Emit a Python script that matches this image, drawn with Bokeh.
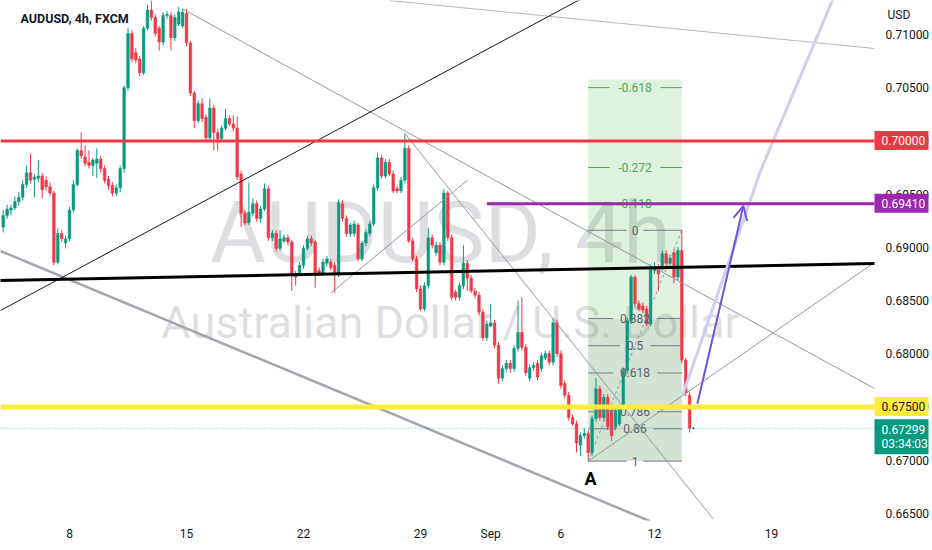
from bokeh.plotting import figure
from bokeh.models import (Range1d, FixedTicker, PrintfTickFormatter, Label, Arrow,
                          OpenHead, ColumnDataSource, LinearAxis)
from bokeh.embed import file_html
from bokeh.resources import INLINE
from bokeh.core.properties import value

# ---------------- data (AUDUSD 4h, FXCM) ----------------
first_bar = -17   # bar index of first candle; bar 0 = Mon Aug 8 first 4h bar
opens = [0.6919,0.6930,0.6935,0.6937,0.6943,0.6947,0.6959,0.6970,0.6964,0.6965,0.6967,0.6963,0.6957,0.6951,0.6886,0.6913,0.6904,
         0.6908,0.6935,0.6959,0.6991,0.6985,0.6980,0.6977,0.6979,0.6983,0.6974,0.6964,0.6958,0.6951,0.6956,0.6974,
         0.7050,0.7101,0.7083,0.7077,0.7064,0.7106,0.7123,0.7116,0.7106,0.7093,0.7118,0.7118,0.7097,0.7110,0.7108,
         0.7120,0.7092,0.7045,0.7019,0.7035,0.7022,0.7003,0.7031,0.7008,0.7002,0.7012,0.7021,0.7016,0.7012,0.6969,
         0.6932,0.6923,0.6932,0.6941,0.6927,0.6936,0.6955,0.6909,0.6913,0.6899,0.6906,0.6909,0.6905,0.6875,0.6875,
         0.6883,0.6899,0.6908,0.6905,0.6878,0.6875,0.6885,0.6886,0.6883,0.6874,0.6941,0.6927,0.6913,0.6913,0.6921,
         0.6889,0.6904,0.6913,0.6922,0.6956,0.6984,0.6967,0.6980,0.6969,0.6955,0.6953,0.6963,0.6993,0.6906,0.6889,
         0.6861,0.6842,0.6864,0.6909,0.6895,0.6902,0.6886,0.6951,0.6909,0.6858,0.6853,0.6864,0.6885,0.6871,0.6859,
         0.6855,0.6839,0.6815,0.6826,0.6829,0.6808,0.6777,0.6786,0.6791,0.6786,0.6805,0.6820,0.6806,0.6777,0.6787,
         0.6791,0.6786,0.6796,0.6800,0.6792,0.6829,0.6800,0.6772,0.6761,0.6740,0.6734,0.6714,0.6723,0.6725,0.6707,
         0.6739,0.6767,0.6740,0.6759,0.6747,0.6731,0.6734,0.6749,0.6784,0.6831,0.6872,0.6847,0.6845,0.6842,0.6828,
         0.6878,0.6881,0.6881,0.6894,0.6885,0.6895,0.6872,0.6897,0.6794,0.6761,0.67295]
highs = [0.6935,0.6940,0.6940,0.6948,0.6952,0.6963,0.6977,0.6988,0.6969,0.6982,0.6970,0.6967,0.6961,0.6953,0.6918,0.6916,0.6911,
         0.6938,0.6963,0.6993,0.7008,0.6996,0.6991,0.6984,0.6993,0.6986,0.6977,0.6967,0.6961,0.6959,0.6977,0.7052,
         0.7106,0.7104,0.7087,0.7080,0.7108,0.7128,0.7132,0.7119,0.7108,0.7121,0.7122,0.7121,0.7119,0.7126,0.7124,
         0.7124,0.7094,0.7047,0.7038,0.7040,0.7025,0.7040,0.7034,0.7011,0.7014,0.7030,0.7024,0.7024,0.7023,0.6972,
         0.6935,0.6961,0.6946,0.6944,0.6939,0.6960,0.6958,0.6916,0.6916,0.6916,0.6912,0.6912,0.6907,0.6878,0.6886,
         0.6902,0.6911,0.6911,0.6907,0.6881,0.6889,0.6892,0.6889,0.6886,0.6945,0.6944,0.6930,0.6923,0.6925,0.6923,
         0.6906,0.6917,0.6925,0.6959,0.6989,0.6987,0.6983,0.6983,0.6972,0.6958,0.6966,0.7007,0.6996,0.6909,0.6892,
         0.6864,0.6867,0.6918,0.6912,0.6905,0.6905,0.6955,0.6953,0.6912,0.6860,0.6867,0.6902,0.6888,0.6874,0.6862,
         0.6858,0.6842,0.6831,0.6847,0.6832,0.6811,0.6789,0.6794,0.6794,0.6808,0.6850,0.6853,0.6809,0.6790,0.6792,
         0.6794,0.6801,0.6803,0.6803,0.6833,0.6832,0.6803,0.6775,0.6764,0.6743,0.6737,0.6726,0.6730,0.6728,0.6742,
         0.6777,0.6770,0.6762,0.6762,0.6749,0.6749,0.6752,0.6787,0.6834,0.6874,0.6874,0.6850,0.6848,0.6845,0.6884,
         0.6886,0.6884,0.6897,0.6897,0.6893,0.6898,0.6900,0.6916,0.6796,0.6764,0.6731]
lows = [0.6914,0.6927,0.6930,0.6935,0.6939,0.6944,0.6956,0.6960,0.6947,0.6961,0.6946,0.6953,0.6948,0.6883,0.6884,0.6905,0.6899,
        0.6906,0.6933,0.6957,0.6983,0.6976,0.6974,0.6967,0.6965,0.6970,0.6960,0.6954,0.6948,0.6948,0.6952,0.6970,
        0.7047,0.7074,0.7073,0.7061,0.7062,0.7104,0.7113,0.7098,0.7085,0.7090,0.7115,0.7085,0.7094,0.7108,0.7106,
        0.7089,0.7042,0.7012,0.7017,0.7018,0.7000,0.7001,0.6991,0.6991,0.6999,0.7010,0.7014,0.7009,0.6963,0.6919,
        0.6921,0.6921,0.6929,0.6924,0.6923,0.6934,0.6906,0.6906,0.6896,0.6897,0.6904,0.6902,0.6859,0.6864,0.6873,
        0.6880,0.6897,0.6901,0.6862,0.6873,0.6873,0.6882,0.6878,0.6857,0.6872,0.6924,0.6910,0.6910,0.6910,0.6887,
        0.6887,0.6901,0.6910,0.6920,0.6953,0.6965,0.6965,0.6967,0.6951,0.6951,0.6951,0.6960,0.6904,0.6887,0.6858,
        0.6840,0.6840,0.6861,0.6899,0.6892,0.6883,0.6883,0.6906,0.6850,0.6850,0.6850,0.6861,0.6859,0.6857,0.6852,
        0.6836,0.6812,0.6812,0.6825,0.6805,0.6772,0.6774,0.6783,0.6782,0.6783,0.6802,0.6803,0.6779,0.6774,0.6784,
        0.6775,0.6783,0.6794,0.6789,0.6789,0.6797,0.6767,0.6758,0.6737,0.6732,0.6707,0.6704,0.6720,0.6699,0.6704,
        0.6736,0.6737,0.6737,0.6728,0.6718,0.6728,0.6732,0.6747,0.6781,0.6828,0.6844,0.6840,0.6838,0.6826,0.6826,
        0.6875,0.6859,0.6878,0.6882,0.6882,0.6866,0.6869,0.6791,0.6760,0.6726,0.6729]
closes = [0.6930,0.6936,0.6937,0.6943,0.6947,0.6959,0.6970,0.6963,0.6966,0.6967,0.6954,0.6957,0.6951,0.6886,0.6913,0.6908,0.6908,
          0.6935,0.6959,0.6991,0.6986,0.6979,0.6977,0.6982,0.6983,0.6974,0.6963,0.6958,0.6951,0.6956,0.6974,0.7050,
          0.7101,0.7077,0.7076,0.7064,0.7106,0.7123,0.7116,0.7101,0.7093,0.7118,0.7119,0.7097,0.7116,0.7121,0.7121,
          0.7092,0.7045,0.7019,0.7035,0.7021,0.7003,0.7031,0.7008,0.7002,0.7012,0.7021,0.7016,0.7012,0.6966,0.6932,
          0.6923,0.6933,0.6941,0.6927,0.6936,0.6955,0.6909,0.6913,0.6899,0.6908,0.6909,0.6905,0.6875,0.6872,0.6883,
          0.6899,0.6908,0.6904,0.6876,0.6875,0.6886,0.6889,0.6881,0.6874,0.6942,0.6927,0.6913,0.6921,0.6922,0.6889,
          0.6904,0.6914,0.6922,0.6956,0.6984,0.6967,0.6980,0.6969,0.6953,0.6953,0.6963,0.6993,0.6906,0.6889,0.6861,
          0.6842,0.6864,0.6909,0.6902,0.6902,0.6886,0.6951,0.6909,0.6853,0.6853,0.6864,0.6885,0.6871,0.6859,0.6855,
          0.6839,0.6815,0.6828,0.6829,0.6808,0.6777,0.6786,0.6791,0.6786,0.6805,0.6820,0.6806,0.6782,0.6787,0.6789,
          0.6778,0.6798,0.6800,0.6792,0.6829,0.6800,0.6770,0.6761,0.6740,0.6734,0.6716,0.6723,0.6725,0.6707,0.6739,
          0.6767,0.6740,0.6759,0.6731,0.6723,0.6747,0.6749,0.6784,0.6831,0.6872,0.6847,0.6842,0.6841,0.6828,0.6881,
          0.6881,0.6875,0.6894,0.6885,0.6890,0.6872,0.6897,0.6794,0.6763,0.6730,0.67299]

day_ticks = [0, 30, 60, 90, 108, 126, 150, 180]
day_labels = ["8", "15", "22", "29", "Sep", "6", "12", "19"]
price_ticks = [0.665, 0.670, 0.675, 0.680, 0.685, 0.690, 0.695, 0.700, 0.705, 0.710]

red_level = 0.70000
purple_level = 0.69410
purple_from_bar = 107
yellow_level = 0.67500
last_price = 0.67299
countdown = "03:34:03"

fib_low_bar, fib_low = 133, 0.6699
fib_high_bar, fib_high = 157, 0.6916
fib_ratios = [-0.618, -0.272, -0.118, 0, 0.382, 0.5, 0.618, 0.786, 0.86, 1]
fib_texts = ["-0.618", "-0.272", "-0.118", "0", "0.382", "0.5", "0.618", "0.786", "0.86", "1"]

# trend-line anchors (bar index, price)
black_thick = [(-18, 0.68688), (206.4, 0.68848)]
black_thin = [(-18, 0.68400), (136, 0.71430)]
grey_channel = [(-18, 0.68970), (149, 0.66423)]
peak_line = [(29, 0.71240), (206.4, 0.67673)]
steep_line = [(86, 0.70070), (165, 0.66450)]
short_line = [(67, 0.68570), (102, 0.69630)]
a_ray = [(133, 0.66990), (206.4, 0.68857)]
top_line = [(82, 0.71320), (206.4, 0.70869)]
projection = [(157.2, 0.6761), (177.2, 0.6972), (195.6, 0.7132), (197, 0.7145)]
arrow_pts = [(161, 0.6753), (172.8, 0.6939)]
label_a = (133.6, 0.66827)

# ---------------- figure ----------------
W, H = 932, 550
FW, FH = 932, 520                     # frame covers the full width, time scale below
BAR_PX = 3.9
X0 = -17.692
X1 = X0 + FW / BAR_PX
SCALE_X = 206.41                      # bar position of the price-scale edge
Y1 = 0.7132
Y0 = 0.66432
PX = (Y1 - Y0) / FH                   # price per pixel
UP, DOWN = "#089981", "#f23645"
FONT = "Roboto"

p = figure(width=W, height=H, x_range=Range1d(X0, X1), y_range=Range1d(Y0, Y1),
           output_backend="svg", toolbar_location=None, y_axis_location=None,
           min_border_left=0, min_border_top=0, min_border_right=0, min_border_bottom=30)
p.outline_line_color = None
p.grid.visible = False
p.background_fill_color = "white"
p.border_fill_color = "white"

# axes
yax = LinearAxis(fixed_location=SCALE_X, ticker=FixedTicker(ticks=price_ticks),
                 formatter=PrintfTickFormatter(format="%.5f"))
p.add_layout(yax, "right")
p.xaxis.ticker = FixedTicker(ticks=day_ticks)
p.xaxis.major_label_overrides = {t: s for t, s in zip(day_ticks, day_labels)}
for ax in (p.xaxis[0], yax):
    ax.axis_line_color = None
    ax.major_tick_line_color = None
    ax.minor_tick_line_color = None
    ax.major_tick_out = 0
    ax.major_tick_in = 0
    ax.major_label_text_font = FONT
    ax.major_label_text_font_size = "12px"
    ax.major_label_text_color = "#131722"
yax.major_label_standoff = 11
p.xaxis.major_label_standoff = 6

# watermark
p.add_layout(Label(x=95.1, y=0.69139, text="AUDUSD, 4h", text_align="center", text_baseline="middle",
                   text_font=FONT, text_font_size="86px", text_color="#787b86",
                   text_alpha=0.25, level="underlay"))
p.add_layout(Label(x=97.7, y=0.68293, text="Australian Dollar / U.S. Dollar", text_align="center",
                   text_baseline="middle", text_font=FONT, text_font_size="45px",
                   text_color="#787b86", text_alpha=0.25, level="underlay"))

# fib background
fib_prices = [fib_high - r * (fib_high - fib_low) for r in fib_ratios]
p.quad(left=fib_low_bar, right=fib_high_bar, bottom=fib_low, top=fib_prices[0] + 8 * PX,
       fill_color="#4caf50", fill_alpha=0.18, line_color=None)
p.quad(left=fib_low_bar, right=fib_high_bar, bottom=fib_low, top=fib_prices[4],
       fill_color="#787b86", fill_alpha=0.12, line_color=None)

# candles
bars = list(range(first_bar, first_bar + len(opens)))
tops = [max(o, c) + (0.00004 if o == c else 0) for o, c in zip(opens, closes)]
bots = [min(o, c) for o, c in zip(opens, closes)]
cols = [UP if c >= o else DOWN for o, c in zip(opens, closes)]
src = ColumnDataSource(dict(x=bars, h=highs, l=lows, top=tops, bottom=bots, color=cols))
p.segment(x0="x", y0="l", x1="x", y1="h", line_color="color", line_width=1, source=src)
p.vbar(x="x", width=0.68, top="top", bottom="bottom", fill_color="color", line_color="color",
       line_width=0.5, source=src)

# fib level lines and texts
mid = (fib_low_bar + fib_high_bar) / 2
for r, pr, t in zip(fib_ratios, fib_prices, fib_texts):
    col = "#4caf50" if r < 0 else "#787b86"
    gap = (3.4 * len(t) + 5) / BAR_PX
    p.segment(x0=[fib_low_bar, mid + gap], y0=[pr, pr], x1=[mid - gap, fib_high_bar], y1=[pr, pr],
              line_color=col, line_width=1)
    p.text(x=[mid], y=[pr], text=[t], text_align="center", text_baseline="middle",
           text_font=value(FONT), text_font_size="12px", text_color=col if r < 0 else "#5d606b")
p.line(x=[fib_low_bar, fib_high_bar], y=[fib_low, fib_high], line_color="#787b86",
       line_width=1, line_dash="3 3", line_alpha=0.7)

# trend lines
def seg(pts, **kw):
    p.line(x=[a for a, b in pts], y=[b for a, b in pts], **kw)

seg(top_line, line_color="#b2b5be", line_width=1)
seg(grey_channel, line_color="#a3a6af", line_width=2.5)
seg(peak_line, line_color="#9598a1", line_width=1)
seg(steep_line, line_color="#9598a1", line_width=1)
seg(short_line, line_color="#9598a1", line_width=1)
seg(a_ray, line_color="#9598a1", line_width=1)
seg(black_thin, line_color="#131722", line_width=1)
seg(black_thick, line_color="#000000", line_width=3)
seg(projection, line_color="#cdd0f0", line_width=3)

# horizontal levels
p.line(x=[X0, SCALE_X], y=[last_price, last_price], line_color=UP, line_alpha=0.6,
       line_width=1, line_dash="1 2")
p.line(x=[X0, SCALE_X], y=[red_level, red_level], line_color=DOWN, line_width=3)
p.line(x=[purple_from_bar, SCALE_X], y=[purple_level, purple_level], line_color="#9c27b0", line_width=3)
p.line(x=[X0, SCALE_X], y=[yellow_level, yellow_level], line_color="#ffeb3b", line_width=5)

# purple arrow
p.add_layout(Arrow(end=OpenHead(size=14, line_color="#7352d8", line_width=2),
                   x_start=arrow_pts[0][0], y_start=arrow_pts[0][1],
                   x_end=arrow_pts[1][0], y_end=arrow_pts[1][1],
                   line_color="#7352d8", line_width=2))

# letter A
p.add_layout(Label(x=label_a[0], y=label_a[1], text="A", text_align="center", text_baseline="middle",
                   text_font=FONT, text_font_size="18px", text_font_style="bold", text_color="#000000"))

# title and currency
p.text(x=[X0 + 20 / BAR_PX], y=[Y1 - 18 * PX], text=["AUDUSD, 4h, FXCM"], text_align="left",
       text_baseline="middle", text_font=value(FONT), text_font_size="12.5px",
       text_font_style="bold", text_color="#131722")
p.text(x=[SCALE_X], y=[Y1 - 14 * PX], text=["USD"], x_offset=13, text_align="left",
       text_baseline="middle", text_font=value(FONT), text_font_size="12px", text_color="#131722")

# price boxes on the scale (drawn above the axis labels)
BOX_R = SCALE_X + 54 / BAR_PX
def price_box(y_top, y_bot, bg):
    p.quad(left=SCALE_X, right=BOX_R, top=y_top, bottom=y_bot, fill_color=bg, line_color=None,
           level="overlay")

def box_text(y, text, fg):
    p.text(x=[SCALE_X], y=[y], text=[text], x_offset=7, text_align="left", text_baseline="middle",
           text_font=value(FONT), text_font_size="12px", text_color=fg, level="overlay")

for lvl, bg, fg in [(red_level, DOWN, "white"), (purple_level, "#9c27b0", "white"),
                    (yellow_level, "#ffeb3b", "#131722")]:
    price_box(lvl + 10 * PX, lvl - 9 * PX, bg)
    box_text(lvl, "%.5f" % lvl, fg)
price_box(last_price + 9 * PX, last_price - 26 * PX, UP)
box_text(last_price - 1 * PX, "%.5f" % last_price, "white")
box_text(last_price - 16 * PX, countdown, "white")

open("out.html", "w").write(file_html(p, INLINE))
